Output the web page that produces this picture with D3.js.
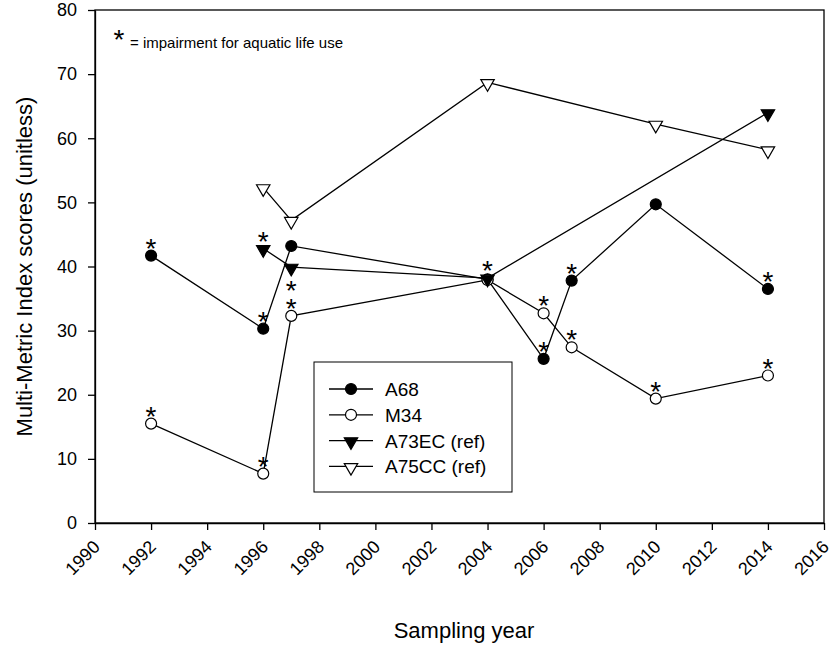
<!DOCTYPE html>
<html>
<head>
<meta charset="utf-8">
<script src="https://cdn.jsdelivr.net/npm/d3@7"></script>
<style>
  body { margin: 0; background: #fff; }
  text { font-family: "Liberation Sans", Arial, sans-serif; }
</style>
</head>
<body>
<div id="chart"></div>
<script>
/* DATA */
const seriesNames = ["A68", "M34", "A73EC (ref)", "A75CC (ref)"];

const a68Years = [1992, 1996, 1997, 2004, 2006, 2007, 2010, 2014];
const a68Values = [41.7, 30.3, 43.2, 38.0, 25.6, 37.8, 49.7, 36.5];
const a68Impaired = [1, 1, 0, 0, 1, 1, 0, 1];

const m34Years = [1992, 1996, 1997, 2004, 2006, 2007, 2010, 2014];
const m34Values = [15.5, 7.7, 32.3, 37.9, 32.7, 27.4, 19.4, 23.0];
const m34Impaired = [1, 1, 1, 0, 1, 1, 1, 1];

const a73Years = [1996, 1997, 2004, 2014];
const a73Values = [42.8, 39.9, 38.2, 64.0];
const a73Impaired = [1, 1, 1, 0];

const a75Years = [1996, 1997, 2004, 2010, 2014];
const a75Values = [52.3, 47.2, 68.7, 62.2, 58.2];
const a75Impaired = [0, 0, 0, 0, 0];

const xTicks = d3.range(1990, 2017, 2);
const yTicks = d3.range(0, 81, 10);

/* LAYOUT */
const width = 830, height = 647;
const margin = {top: 10, right: 6, bottom: 124, left: 95};

const svg = d3.select("#chart").append("svg")
  .attr("width", width)
  .attr("height", height);

const x = d3.scaleLinear().domain([1990, 2016]).range([margin.left, width - margin.right]);
const y = d3.scaleLinear().domain([0, 80]).range([height - margin.bottom, margin.top]);

const series = [
  {name: seriesNames[0], years: a68Years, values: a68Values, imp: a68Impaired, shape: "circle", fill: "#000"},
  {name: seriesNames[1], years: m34Years, values: m34Values, imp: m34Impaired, shape: "circle", fill: "#fff"},
  {name: seriesNames[2], years: a73Years, values: a73Values, imp: a73Impaired, shape: "tri", fill: "#000"},
  {name: seriesNames[3], years: a75Years, values: a75Values, imp: a75Impaired, shape: "tri", fill: "#fff"}
].map(s => ({...s, pts: s.years.map((yr, i) => ({year: yr, value: s.values[i], imp: s.imp[i]}))}));

// frame
svg.append("rect")
  .attr("x", margin.left).attr("y", margin.top)
  .attr("width", width - margin.right - margin.left)
  .attr("height", height - margin.bottom - margin.top)
  .attr("fill", "none").attr("stroke", "#000").attr("stroke-width", 1.3);

// axes
const xAxis = svg.append("g")
  .attr("transform", `translate(0,${height - margin.bottom})`)
  .call(d3.axisBottom(x).tickValues(xTicks).tickFormat(d3.format("d")).tickSize(7).tickSizeOuter(0));
xAxis.selectAll("text")
  .style("font-size", "18px")
  .attr("text-anchor", "end")
  .attr("dy", null).attr("y", 0).attr("x", 0)
  .attr("transform", "translate(5.5,25) rotate(-45)");

const yAxis = svg.append("g")
  .attr("transform", `translate(${margin.left},0)`)
  .call(d3.axisLeft(y).tickValues(yTicks).tickSize(7).tickSizeOuter(0));
yAxis.selectAll("text").style("font-size", "18px").attr("x", -18);

svg.selectAll(".domain").attr("stroke-width", 1.3);
svg.selectAll(".tick line").attr("stroke-width", 1.3);

// axis titles
svg.append("text")
  .attr("x", 464)
  .attr("y", 638)
  .attr("text-anchor", "middle")
  .style("font-size", "22px")
  .text("Sampling year");

svg.append("text")
  .attr("transform", `translate(32,${(margin.top + height - margin.bottom) / 2}) rotate(-90)`)
  .attr("text-anchor", "middle")
  .style("font-size", "22px")
  .text("Multi-Metric Index scores (unitless)");

// markers
const triPath = d3.symbol().type(d3.symbolTriangle).size(78)();
function drawMarker(g, s) {
  if (s.shape === "circle") {
    g.append("circle").attr("r", 5.5)
      .attr("fill", s.fill).attr("stroke", "#000").attr("stroke-width", 1.2);
  } else {
    g.append("path").attr("d", triPath).attr("transform", "rotate(180) translate(0,-1)")
      .attr("fill", s.fill).attr("stroke", "#000").attr("stroke-width", 1.2);
  }
}

const line = d3.line().x(d => x(d.year)).y(d => y(d.value));

series.forEach(s => {
  svg.append("path")
    .datum(s.pts)
    .attr("d", line)
    .attr("fill", "none")
    .attr("stroke", "#000")
    .attr("stroke-width", 1.3);
});

series.forEach(s => {
  svg.selectAll(null)
    .data(s.pts)
    .join("g")
    .attr("transform", d => `translate(${x(d.year)},${y(d.value)})`)
    .each(function() { drawMarker(d3.select(this), s); });
});

// impairment asterisks (A73EC 1997 one sits below its marker)
series.forEach(s => {
  svg.selectAll(null)
    .data(s.pts.filter(d => d.imp))
    .join("text")
    .attr("x", d => x(d.year))
    .attr("y", d => (s.name === "A73EC (ref)" && d.year === 1997) ? y(d.value) + 33 : y(d.value) + 2)
    .attr("text-anchor", "middle")
    .style("font-size", "28px")
    .text("*");
});

// note
svg.append("text").attr("x", 119).attr("y", 49).attr("text-anchor", "middle")
  .style("font-size", "28px").text("*");
svg.append("text").attr("x", 130).attr("y", 48)
  .style("font-size", "15px").text("= impairment for aquatic life use");

// legend
const legend = svg.append("g").attr("transform", "translate(314,362)");
legend.append("rect").attr("width", 198).attr("height", 130)
  .attr("fill", "#fff").attr("stroke", "#000").attr("stroke-width", 1);
series.forEach((s, i) => {
  const row = legend.append("g").attr("transform", `translate(0,${27 + i * 25.8})`);
  row.append("line").attr("x1", 15).attr("x2", 59)
    .attr("stroke", "#000").attr("stroke-width", 1.3);
  drawMarker(row.append("g").attr("transform", "translate(37,0)"), s);
  row.append("text").attr("x", 71).attr("y", 7).style("font-size", "19px").text(s.name);
});
</script>
</body>
</html>
